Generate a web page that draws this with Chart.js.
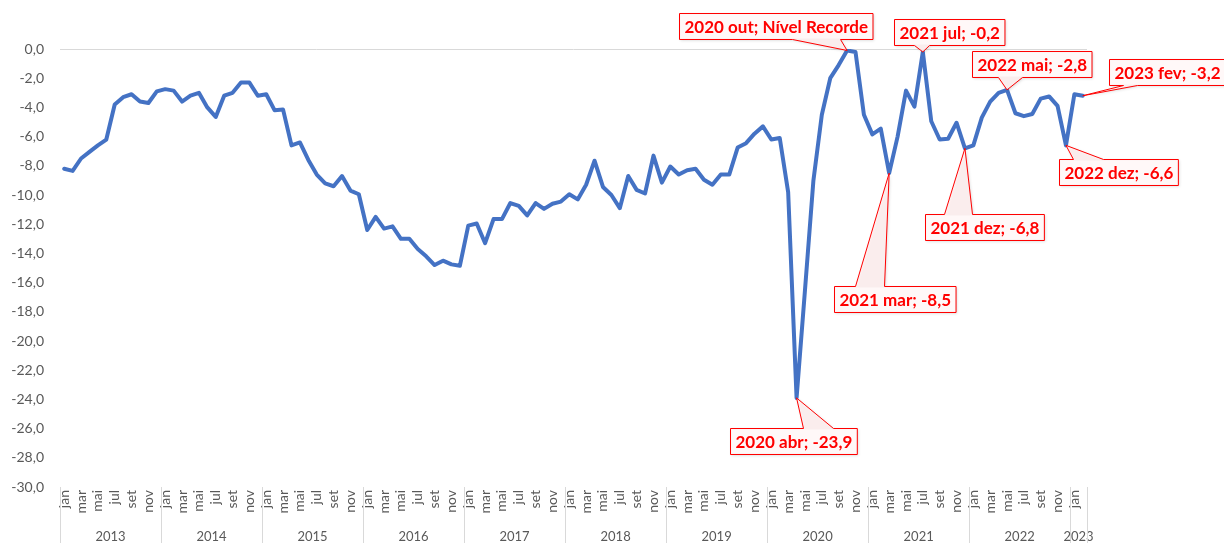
<!DOCTYPE html>
<html>
<head>
<meta charset="utf-8">
<script src="https://cdn.jsdelivr.net/npm/chart.js@4"></script>
<style>
  body { margin: 0; background: #fff; }
  canvas { display: block; }
</style>
</head>
<body>
<canvas id="myChart" width="1224" height="543"></canvas>
<script>
// years and month names for the category axis
const years = ['2013', '2014', '2015', '2016', '2017', '2018', '2019', '2020', '2021', '2022', '2023'];
const monthAbbr = ['jan', 'fev', 'mar', 'abr', 'mai', 'jun', 'jul', 'ago', 'set', 'out', 'nov', 'dez'];

// monthly values, jan/2013 .. fev/2023
const values = [
  -8.2, -8.35, -7.5, -7.05, -6.6, -6.2, -3.8, -3.3, -3.1, -3.6, -3.7, -2.9,
  -2.75, -2.85, -3.6, -3.2, -3.0, -4.0, -4.65, -3.2, -3.0, -2.3, -2.3, -3.2,
  -3.1, -4.2, -4.15, -6.6, -6.4, -7.6, -8.6, -9.2, -9.4, -8.7, -9.7, -9.95,
  -12.4, -11.5, -12.3, -12.15, -13.0, -13.0, -13.7, -14.2, -14.8, -14.5, -14.75, -14.85,
  -12.1, -11.95, -13.3, -11.65, -11.65, -10.55, -10.75, -11.4, -10.55, -10.95, -10.6, -10.45,
  -9.95, -10.3, -9.3, -7.65, -9.45, -10.0, -10.9, -8.7, -9.65, -9.9, -7.3, -9.15,
  -8.05, -8.6, -8.3, -8.2, -8.95, -9.3, -8.6, -8.6, -6.75, -6.45, -5.8, -5.3,
  -6.2, -6.1, -9.8, -23.9, -16.5, -9.0, -4.5, -2.0, -1.1, -0.1, -0.2, -4.5,
  -5.85, -5.45, -8.5, -6.0, -2.85, -3.95, -0.2, -4.95, -6.2, -6.15, -5.05, -6.8,
  -6.6, -4.7, -3.6, -3.0, -2.8, -4.4, -4.6, -4.45, -3.4, -3.25, -3.9, -6.6,
  -3.1, -3.2
];

// labelled points
const calloutAt = ['2020 out', '2020 abr', '2021 mar', '2021 jul', '2021 dez', '2022 mai', '2022 dez', '2023 fev'];
const calloutText = ['2020 out; Nível Recorde', '2020 abr; -23,9', '2021 mar; -8,5', '2021 jul; -0,2',
  '2021 dez; -6,8', '2022 mai; -2,8', '2022 dez; -6,6', '2023 fev; -3,2'];

// box placement for each callout (offset of box corner from point, wedge side and base)
const calloutStyle = [
  { dx: -168, dy: -37, side: 'bottom', a0: 113, a1: 161 },
  { dx: -67, dy: 30, side: 'top', a0: 73, a1: 103 },
  { dx: -55, dy: 113, side: 'top', a0: 21, a1: 50 },
  { dx: -29, dy: -33, side: 'bottom', a0: 20, a1: 35 },
  { dx: -40, dy: 66, side: 'top', a0: 19, a1: 47 },
  { dx: -35, dy: -39, side: 'bottom', a0: 26, a1: 50 },
  { dx: -7, dy: 14, side: 'top', a0: 14, a1: 44 },
  { dx: 26, dy: -37, side: 'bottom', a0: 14, a1: 28 }
];

const labels = values.map((v, i) => years[Math.floor(i / 12)] + ' ' + monthAbbr[i % 12]);
const axisColor = '#595959';

// year groups under the month labels
const yearAxis = {
  id: 'yearAxis',
  afterDraw(chart) {
    const c = chart.ctx;
    const xs = chart.scales.x;
    const step = xs.getPixelForValue(1) - xs.getPixelForValue(0);
    c.save();
    c.strokeStyle = '#D9D9D9';
    c.lineWidth = 1;
    c.fillStyle = axisColor;
    c.font = '13px Lato';
    c.textAlign = 'center';
    c.textBaseline = 'middle';
    let x1 = xs.left;
    years.forEach((yr, k) => {
      const first = k * 12;
      const last = Math.min(first + 11, values.length - 1);
      const x0 = xs.getPixelForValue(first) - step / 2;
      x1 = xs.getPixelForValue(last) + step / 2;
      c.beginPath();
      c.moveTo(Math.round(x0) + 0.5, xs.top);
      c.lineTo(Math.round(x0) + 0.5, chart.height);
      c.stroke();
      c.fillText(yr, (x0 + x1) / 2, xs.top + 50);
    });
    c.beginPath();
    c.moveTo(Math.round(x1) + 0.5, xs.top);
    c.lineTo(Math.round(x1) + 0.5, chart.height);
    c.stroke();
    c.restore();
  }
};

// red callout boxes with wedge pointers
const callouts = {
  id: 'callouts',
  afterDatasetsDraw(chart) {
    const c = chart.ctx;
    const meta = chart.getDatasetMeta(0);
    c.save();
    c.font = 'bold 17px Lato';
    calloutAt.forEach((lab, k) => {
      const pt = meta.data[labels.indexOf(lab)];
      const st = calloutStyle[k];
      const w = c.measureText(calloutText[k]).width + 10;
      const h = 26;
      const L = Math.round(pt.x + st.dx) + 0.5;
      const T = Math.round(pt.y + st.dy) + 0.5;
      const R = L + w, B = T + h;
      c.beginPath();
      c.moveTo(L, T);
      if (st.side === 'top') {
        c.lineTo(L + st.a0, T);
        c.lineTo(pt.x, pt.y);
        c.lineTo(L + st.a1, T);
      }
      c.lineTo(R, T);
      c.lineTo(R, B);
      if (st.side === 'bottom') {
        c.lineTo(L + st.a1, B);
        c.lineTo(pt.x, pt.y);
        c.lineTo(L + st.a0, B);
      }
      c.lineTo(L, B);
      c.closePath();
      c.shadowColor = 'rgba(0,0,0,0.18)';
      c.shadowBlur = 3;
      c.shadowOffsetX = 1;
      c.shadowOffsetY = 1;
      c.fillStyle = 'rgba(255,240,240,0.85)';
      c.fill();
      c.shadowColor = 'transparent';
      // lighter inside of the box itself
      c.fillStyle = 'rgba(255,250,250,0.9)';
      c.fillRect(L + 1, T + 1, w - 2, h - 2);
      c.strokeStyle = '#FF0000';
      c.lineWidth = 1;
      c.stroke();
      c.fillStyle = '#FF0000';
      c.textAlign = 'left';
      c.textBaseline = 'middle';
      c.fillText(calloutText[k], L + 5, T + h / 2 + 1);
    });
    c.restore();
  }
};

window.addEventListener('load', () => {
  const ctx = document.getElementById('myChart');

  new Chart(ctx, {
    type: 'line',
    data: {
      labels: labels,
      datasets: [{
        data: values,
        borderColor: '#4472C4',
        borderWidth: 4,
        pointRadius: 0,
        tension: 0,
        borderJoinStyle: 'round',
        borderCapStyle: 'round',
        fill: false
      }]
    },
    options: {
      responsive: false,
      animation: false,
      layout: { padding: { top: 49, right: 137, bottom: 0, left: 0 } },
      plugins: {
        legend: { display: false },
        tooltip: { enabled: false }
      },
      scales: {
        x: {
          offset: true,
          grid: { display: false, drawTicks: false },
          border: { display: false },
          ticks: {
            autoSkip: false,
            maxRotation: 90,
            minRotation: 90,
            padding: 3,
            color: axisColor,
            font: { family: 'Lato', size: 14 },
            callback: (v, i) => (i % 2 === 0 ? monthAbbr[i % 12] : '')
          },
          afterFit: (s) => { s.height = 56; }
        },
        y: {
          min: -30,
          max: 0,
          ticks: {
            stepSize: 2,
            padding: 16,
            color: axisColor,
            font: { family: 'Lato', size: 14 },
            callback: (v) => v.toFixed(1).replace('.', ',')
          },
          grid: {
            drawTicks: false,
            color: (g) => (g.tick && g.tick.value === 0 ? '#D9D9D9' : 'rgba(0,0,0,0)')
          },
          border: { display: false },
          afterFit: (s) => { s.width = 60; }
        }
      }
    },
    plugins: [yearAxis, callouts]
  });
});
</script>
</body>
</html>
